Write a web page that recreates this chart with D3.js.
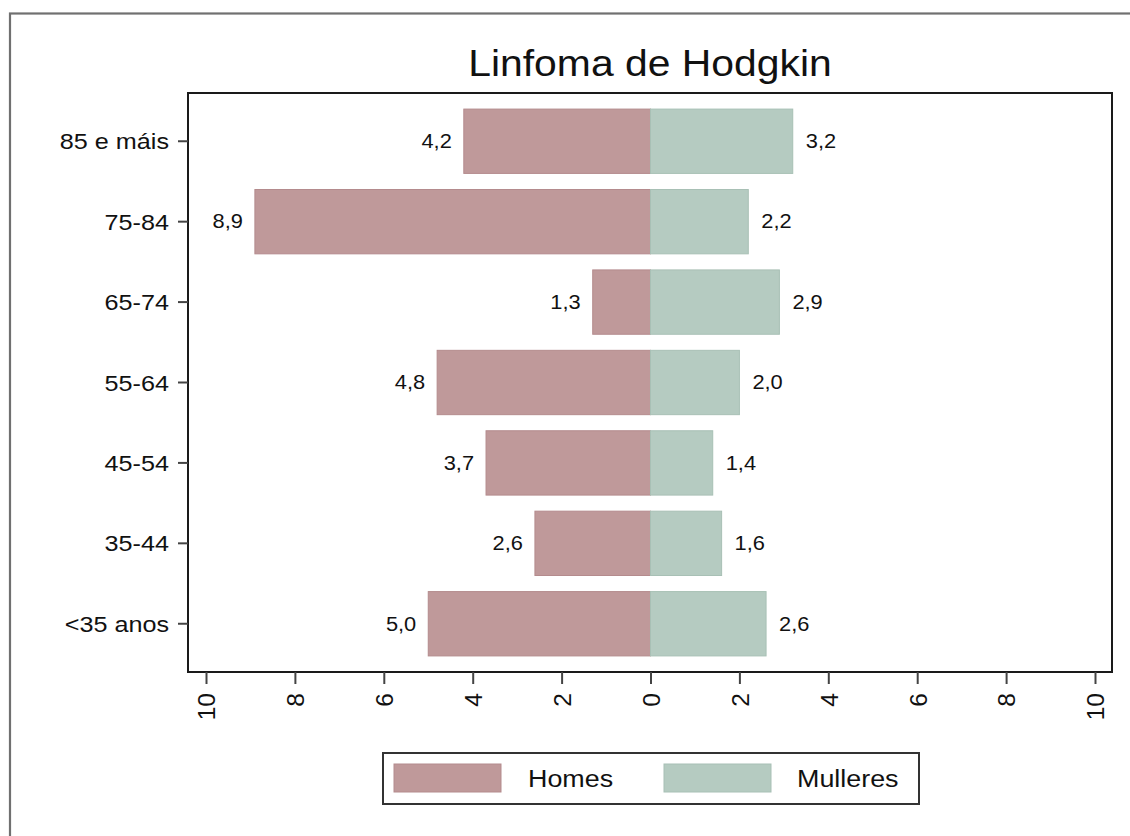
<!DOCTYPE html>
<html>
<head>
<meta charset="utf-8">
<script src="https://cdn.jsdelivr.net/npm/d3@7"></script>
<style>
  html, body { margin: 0; padding: 0; background: #fff; }
  svg { display: block; font-family: "Liberation Sans", Arial, sans-serif; }
</style>
</head>
<body>
<svg id="chart" width="1130" height="836"></svg>
<script>
// Age groups, top to bottom
const ageGroups = ["85 e máis", "75-84", "65-74", "55-64", "45-54", "35-44", "<35 anos"];
// Rates by sex (shown as magnitudes; men to the left, women to the right)
const homes    = [4.2, 8.9, 1.3, 4.8, 3.7, 2.6, 5.0];
const mulleres = [3.2, 2.2, 2.9, 2.0, 1.4, 1.6, 2.6];
const xTicks = [-10, -8, -6, -4, -2, 0, 2, 4, 6, 8, 10];
const seriesNames = ["Homes", "Mulleres"];

const colHomes = "#bf999a", colHomesEdge = "#b48b8d";
const colMull = "#b5cbc1", colMullEdge = "#a8c0b5";
const SX = 1.12; // horizontal text widening

const svg = d3.select("#chart");
const plot = { left: 188, right: 1112, top: 93, bottom: 672 };

const locale = d3.formatLocale({ decimal: ",", thousands: ".", grouping: [3], currency: ["", "€"] });
const fmt = locale.format(".1f");

// Outer graph frame
svg.append("rect")
  .attr("x", 10).attr("y", 13.5).attr("width", 1200).attr("height", 900)
  .attr("fill", "none").attr("stroke", "#707070").attr("stroke-width", 2.2);

const x = d3.scaleLinear().domain([-10, 10]).range([206, 1095]);
const y = d3.scaleBand().domain(ageGroups).range([plot.top, plot.bottom])
  .paddingInner(0.2).paddingOuter(0.2);

function wideText(sel, tx, ty) {
  return sel.attr("transform", `translate(${tx},${ty}) scale(${SX},1)`);
}

// Bars
const rows = ageGroups.map((g, i) => ({ g, h: homes[i], m: mulleres[i] }));
svg.append("g").selectAll("rect").data(rows).join("rect")
  .attr("x", d => x(-d.h)).attr("width", d => x(0) - x(-d.h))
  .attr("y", d => y(d.g)).attr("height", y.bandwidth())
  .attr("fill", colHomes).attr("stroke", colHomesEdge).attr("stroke-width", 1);
svg.append("g").selectAll("rect").data(rows).join("rect")
  .attr("x", x(0)).attr("width", d => x(d.m) - x(0))
  .attr("y", d => y(d.g)).attr("height", y.bandwidth())
  .attr("fill", colMull).attr("stroke", colMullEdge).attr("stroke-width", 1);

// Value labels
const lab = svg.append("g").attr("font-size", 19.5).attr("fill", "#111");
lab.selectAll("text.h").data(rows).join("text").attr("class", "h")
  .attr("text-anchor", "end").attr("dy", "0.35em")
  .each(function (d) { wideText(d3.select(this), x(-d.h) - 12, y(d.g) + y.bandwidth() / 2); })
  .text(d => fmt(d.h));
lab.selectAll("text.m").data(rows).join("text").attr("class", "m")
  .attr("text-anchor", "start").attr("dy", "0.35em")
  .each(function (d) { wideText(d3.select(this), x(d.m) + 13, y(d.g) + y.bandwidth() / 2); })
  .text(d => fmt(d.m));

// Plot region frame
svg.append("rect")
  .attr("x", plot.left).attr("y", plot.top)
  .attr("width", plot.right - plot.left).attr("height", plot.bottom - plot.top)
  .attr("fill", "none").attr("stroke", "#1a1a1a").attr("stroke-width", 2);

// Y axis
const yAxis = svg.append("g").attr("transform", `translate(${plot.left},0)`)
  .call(d3.axisLeft(y).tickSize(10).tickPadding(8));
yAxis.select(".domain").remove();
yAxis.selectAll(".tick line").attr("stroke", "#444").attr("stroke-width", 2);
yAxis.selectAll(".tick text")
  .attr("font-size", 22.5).attr("font-family", "Liberation Sans, Arial, sans-serif")
  .attr("fill", "#111")
  .attr("x", -19 / SX).attr("dy", "0.36em")
  .attr("transform", `scale(${SX},1)`);

// X axis
const xAxis = svg.append("g").attr("transform", `translate(0,${plot.bottom})`)
  .call(d3.axisBottom(x).tickValues(xTicks).tickSize(12).tickFormat(d => Math.abs(d)));
xAxis.select(".domain").remove();
xAxis.selectAll(".tick line").attr("stroke", "#444").attr("stroke-width", 2);
xAxis.selectAll(".tick text")
  .attr("font-size", 24.5).attr("font-family", "Liberation Sans, Arial, sans-serif")
  .attr("fill", "#111")
  .attr("text-anchor", "end")
  .attr("x", -21).attr("y", 0).attr("dy", "0.36em")
  .attr("transform", "rotate(-90)");

// Title
wideText(svg.append("text"), 650, 76)
  .attr("text-anchor", "middle").attr("font-size", 36.5).attr("fill", "#111")
  .text("Linfoma de Hodgkin");

// Legend
const legend = svg.append("g");
legend.append("rect")
  .attr("x", 383).attr("y", 753).attr("width", 536).attr("height", 51)
  .attr("fill", "#fff").attr("stroke", "#333").attr("stroke-width", 2);
const legendItems = [
  { name: seriesNames[0], fill: colHomes, edge: colHomesEdge, sx: 394, tx: 528 },
  { name: seriesNames[1], fill: colMull, edge: colMullEdge, sx: 664, tx: 797 }
];
legendItems.forEach(it => {
  legend.append("rect")
    .attr("x", it.sx).attr("y", 764).attr("width", 107).attr("height", 28)
    .attr("fill", it.fill).attr("stroke", it.edge).attr("stroke-width", 1);
  wideText(legend.append("text"), it.tx, 778)
    .attr("dy", "0.36em").attr("font-size", 24).attr("fill", "#111")
    .text(it.name);
});
</script>
</body>
</html>
